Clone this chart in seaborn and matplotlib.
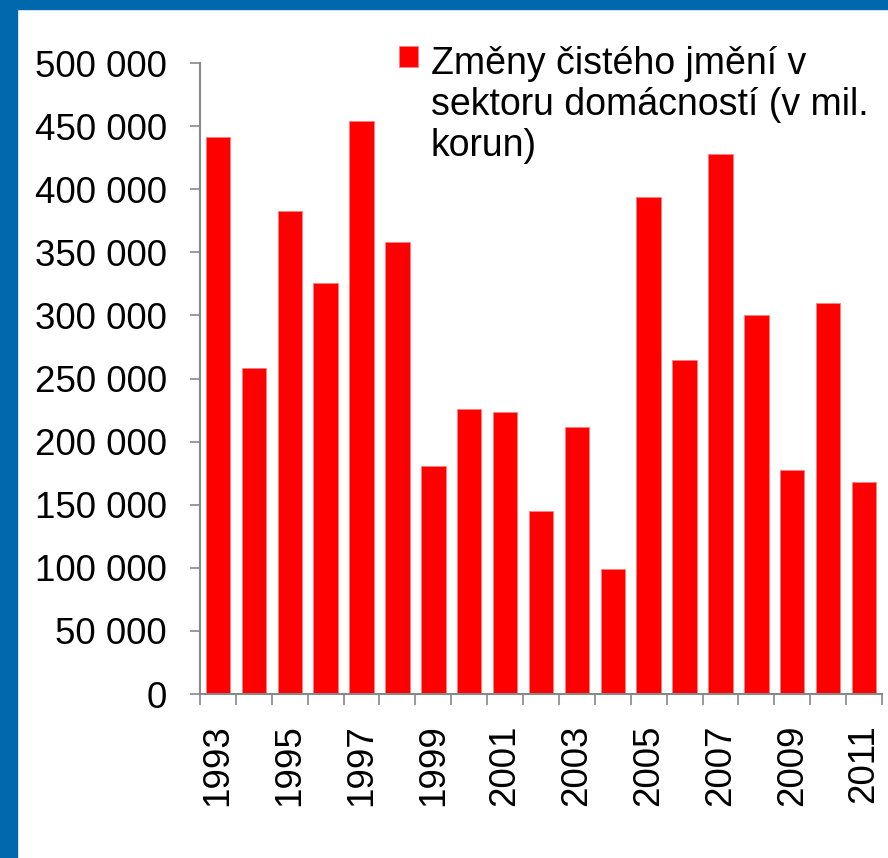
import matplotlib
matplotlib.use("Agg")
import matplotlib.pyplot as plt
import matplotlib.patches as mpatches
import numpy as np
import pandas as pd
import seaborn as sns

# Household net worth changes (CZK millions).
years = [str(y) for y in range(1993, 2012)]
values = [441000, 258000, 382500, 325500, 454000, 358000, 181000, 225500,
          223500, 145000, 211500, 99000, 394000, 264500, 428000, 300500,
          177500, 310000, 168000]
yticks = [0, 50000, 100000, 150000, 200000, 250000, 300000, 350000, 400000,
          450000, 500000]
series_label = "Změny čistého jmění v\nsektoru domácností (v mil.\nkorun)"

sns.set_theme(style="white")
plt.rcParams["font.family"] = ["Liberation Sans", "DejaVu Sans"]
plt.rcParams["text.color"] = "black"
plt.rcParams["xtick.labelcolor"] = "black"
plt.rcParams["ytick.labelcolor"] = "black"

df = pd.DataFrame({"year": years, "value": values})

fig = plt.figure(figsize=(8.88, 8.58), dpi=100)
ax = fig.add_axes([200 / 888, 1 - 694 / 858, 682 / 888, 631 / 858])

sns.barplot(data=df, x="year", y="value", color="#ff0000", saturation=1,
            width=0.68, edgecolor="#ff8080", linewidth=0.6, ax=ax,
            label=series_label)

ax.set_ylim(0, 500000)
ax.set_xlim(-0.5, len(years) - 0.5)
ax.set_yticks(yticks)
ax.set_yticklabels([f"{v:,}".replace(",", " ") for v in yticks], fontsize=26.5)
ax.tick_params(axis="y", length=7, width=1.2, color="#888888", pad=17,
               left=True, labelcolor="black")

# labels on every other year, tick marks on category boundaries
ax.set_xticks(range(0, len(years), 2))
ax.set_xticklabels(years[::2], rotation=90, fontsize=26.5)
ax.tick_params(axis="x", which="major", length=0, pad=22, labelcolor="black")
ax.set_xticks(np.arange(-0.5, len(years), 1), minor=True)
ax.tick_params(axis="x", which="minor", length=8, width=1.2,
               color="#888888", bottom=True)
ax.set_xlabel("")
ax.set_ylabel("")

for side in ["top", "right"]:
    ax.spines[side].set_visible(False)
for side in ["left", "bottom"]:
    ax.spines[side].set_color("#888888")
    ax.spines[side].set_linewidth(1.5)

leg = ax.legend(loc="upper left", bbox_to_anchor=(399 / 888, 1 - 46 / 858),
                bbox_transform=fig.transFigure, frameon=False, fontsize=27,
                handlelength=0.5, handleheight=0.5, handletextpad=0.35,
                borderpad=0, borderaxespad=0)
for t in leg.get_texts():
    t.set_linespacing(1.17)
    t.set_color("black")
# put the legend swatch next to the first line of the label
for col in leg._legend_handle_box.get_children():
    for row in col.get_children():
        row.align = "top"

# blue slide frame on left and top
blue = "#0068ac"
fig.patches.append(mpatches.Rectangle((0, 0), 17 / 888, 1, transform=fig.transFigure,
                                      color=blue, zorder=10))
fig.patches.append(mpatches.Rectangle((0, 1 - 9 / 858), 1, 9 / 858,
                                      transform=fig.transFigure, color=blue, zorder=10))

fig.savefig("out.png", dpi=100)
